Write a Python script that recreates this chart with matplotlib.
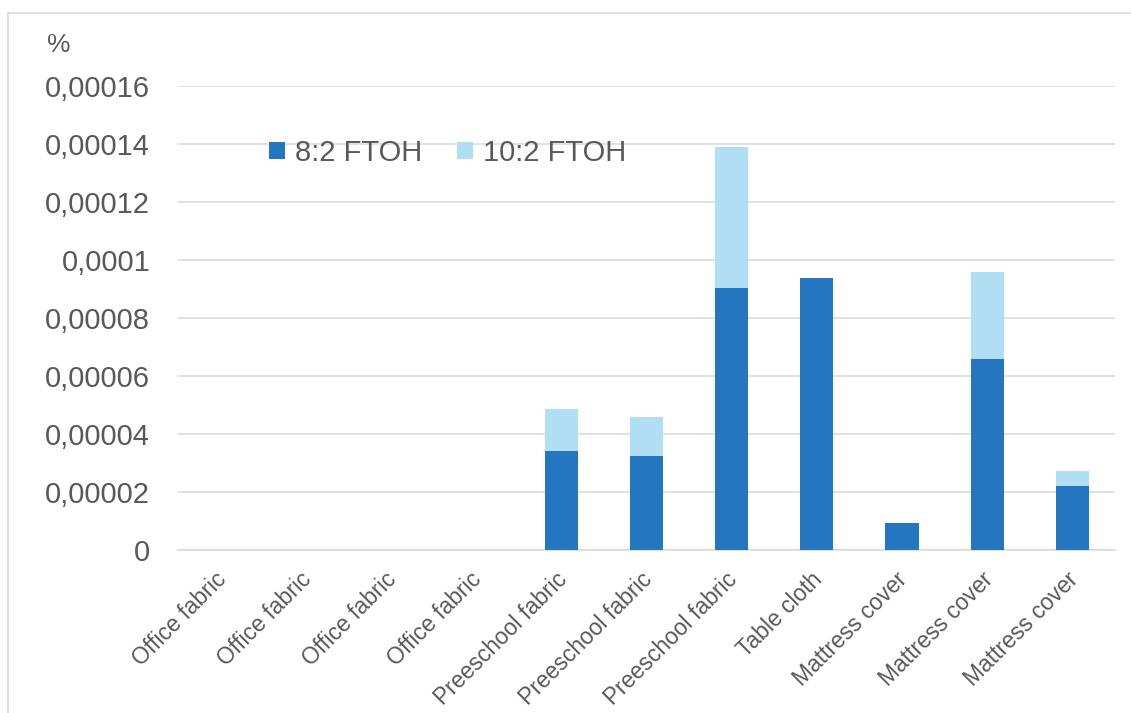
import matplotlib.pyplot as plt
import numpy as np
from matplotlib.lines import Line2D
from matplotlib.transforms import ScaledTranslation

plt.rcParams['font.family'] = ['Liberation Sans', 'DejaVu Sans']

# Data (percent)
categories = ['Office fabric', 'Office fabric', 'Office fabric', 'Office fabric',
              'Preeschool fabric', 'Preeschool fabric', 'Preeschool fabric',
              'Table cloth', 'Mattress cover', 'Mattress cover', 'Mattress cover']
ftoh_8_2 = [0, 0, 0, 0, 3.41e-5, 3.24e-5, 9.03e-5, 9.38e-5, 0.93e-5, 6.59e-5, 2.21e-5]
ftoh_10_2 = [0, 0, 0, 0, 1.45e-5, 1.35e-5, 4.86e-5, 0, 0, 3.0e-5, 0.51e-5]
series_names = ['8:2 FTOH', '10:2 FTOH']

y_ticks = [0, 0.00002, 0.00004, 0.00006, 0.00008, 0.0001, 0.00012, 0.00014, 0.00016]
y_labels = ['0', '0,00002', '0,00004', '0,00006', '0,00008', '0,0001',
            '0,00012', '0,00014', '0,00016']

dark = '#2376BF'
light = '#B0DEF3'
text_col = '#595959'
grid_col = '#D9D9D9'

fig = plt.figure(figsize=(11.31, 7.13), dpi=100)
ax = fig.add_axes([0.1574, 0.2286, 1115 / 1131 - 0.1574, 0.8794 - 0.2286])

x = np.arange(len(categories))
ax.bar(x, ftoh_8_2, width=0.39, color=dark, label=series_names[0], zorder=3)
ax.bar(x, ftoh_10_2, width=0.39, bottom=ftoh_8_2, color=light,
       label=series_names[1], zorder=3)

ax.set_xlim(-0.5, len(categories) - 0.5)
ax.set_ylim(0, 0.00016)
ax.set_yticks(y_ticks)
ax.set_yticklabels(y_labels, fontsize=21, color=text_col)
ax.yaxis.grid(True, color=grid_col, linewidth=1.1, zorder=0)
ax.tick_params(axis='y', length=0, pad=20)
ax.tick_params(axis='x', length=0, pad=13)

ax.set_xticks(x)
ax.set_xticklabels(categories, fontsize=16.5, color=text_col, rotation=45,
                   ha='right', rotation_mode='anchor')
shift = ScaledTranslation(-6 / 100, 0, fig.dpi_scale_trans)
for lab in ax.get_xticklabels():
    lab.set_transform(lab.get_transform() + shift)

for s in ['top', 'right', 'left']:
    ax.spines[s].set_visible(False)
ax.spines['bottom'].set_color(grid_col)
ax.spines['bottom'].set_linewidth(1.1)

fig.text(47 / 1131, 1 - 45 / 713, '%', fontsize=19, color=text_col, va='center')

leg = ax.legend(loc='upper left', bbox_to_anchor=(257 / 1131, 1 - 127 / 713),
                bbox_transform=fig.transFigure, ncol=2, frameon=False,
                fontsize=21, handlelength=0.55, handleheight=0.55,
                handletextpad=0.35, columnspacing=1.2, borderaxespad=0)
for t in leg.get_texts():
    t.set_color(text_col)

# outer chart border: only the top and left edges fall inside the picture
bx, by = 8 / 1131, 1 - 13 / 713
fig.add_artist(Line2D([bx, 1], [by, by], transform=fig.transFigure,
                      color=grid_col, linewidth=1.2))
fig.add_artist(Line2D([bx, bx], [0, by], transform=fig.transFigure,
                      color=grid_col, linewidth=1.2))

fig.savefig('out.png', dpi=100)
